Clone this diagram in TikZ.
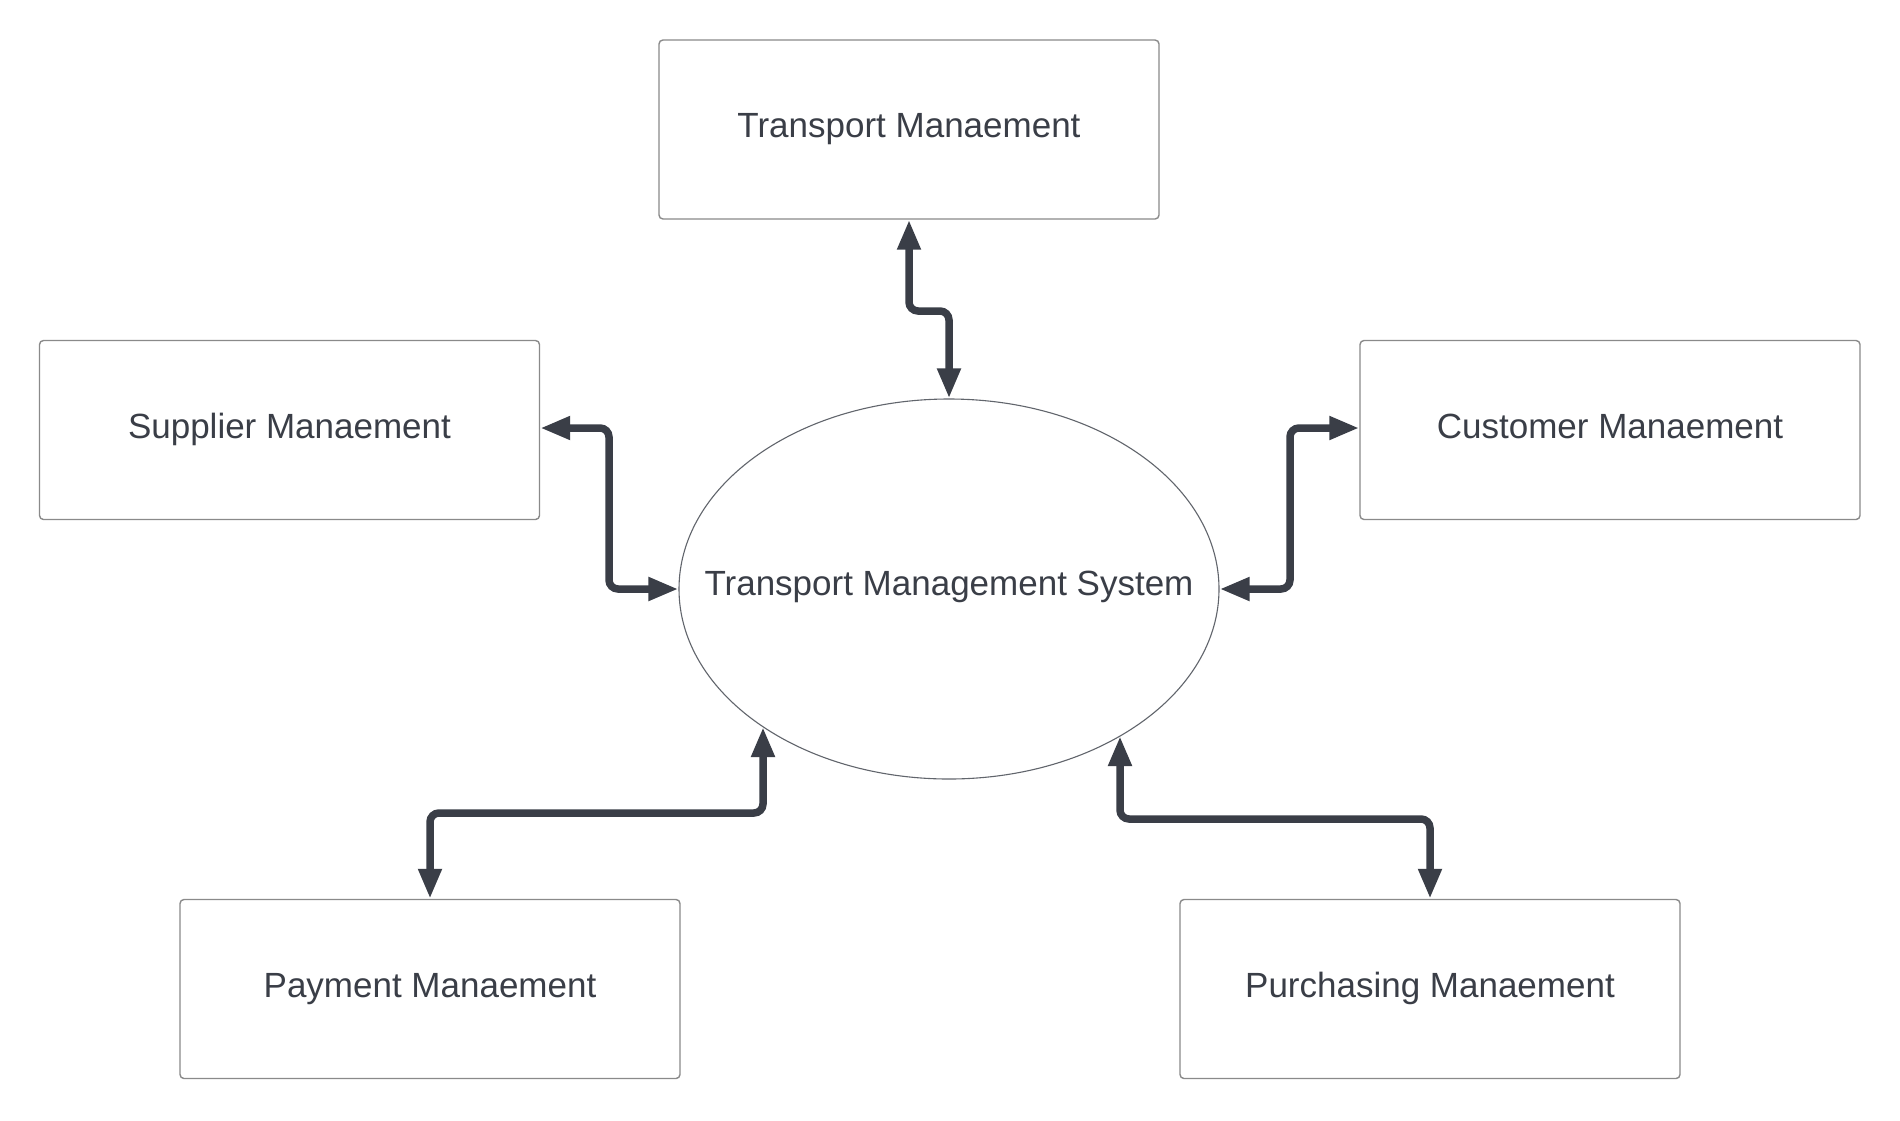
\documentclass[tikz,border=0pt]{standalone}
\usepackage{fontspec}
\setmainfont{Liberation Sans}
\usetikzlibrary{shapes.geometric,arrows.meta}
\definecolor{ink}{HTML}{3A3E47}
\definecolor{frame}{HTML}{8A8A8A}
\tikzset{
  box/.style={draw=frame, line width=1.4pt, rounded corners=4pt, minimum width=500pt, minimum height=179pt, inner sep=0pt, text height=25pt, text depth=9pt, text=ink, font=\fontsize{35}{42}\selectfont},
  hub/.style={ellipse, draw=ink!80, line width=1.1pt, minimum width=540pt, minimum height=380pt, inner sep=0pt, text height=25pt, text depth=12pt, text=ink, font=\fontsize{35}{42}\selectfont},
  conn/.style={draw=ink, line width=7.5pt, rounded corners=9pt, {Triangle[length=30pt,width=22pt]}-{Triangle[length=30pt,width=22pt]}}
}
\begin{document}
\begin{tikzpicture}[x=1pt,y=-1pt]
\useasboundingbox (0,0) rectangle (1900,1120);
\fill[white] (0,0) rectangle (1900,1120);
\node[box] (tr) at (909,129.5) {Transport Manaement};
\node[box] (su) at (289.5,430) {Supplier Manaement};
\node[box] (cu) at (1610,430) {Customer Manaement};
\node[box] (pa) at (430,989) {Payment Manaement};
\node[box] (pu) at (1430,989) {Purchasing Manaement};
\node[hub] (ell) at (949,589) {\makebox[0pt]{Transport Management System}};
\coordinate (t1) at (909,311);
\coordinate (s1) at (609,428);
\coordinate (c1) at (1290,428);
\coordinate (p1) at (430,813);
\coordinate (payE) at (763,727);
\coordinate (q1) at (1430,819);
\coordinate (purE) at (1120,736);
\draw[conn] (tr.south) -- (t1) -| (ell.north);
\draw[conn] (su.east |- s1) -- (s1) |- (ell.west);
\draw[conn] (ell.east) -| (c1) -- (cu.west |- c1);
\draw[conn] (pa.north) -- (p1) -| (payE);
\draw[conn] (pu.north) -- (q1) -| (purE);
\end{tikzpicture}
\end{document}
